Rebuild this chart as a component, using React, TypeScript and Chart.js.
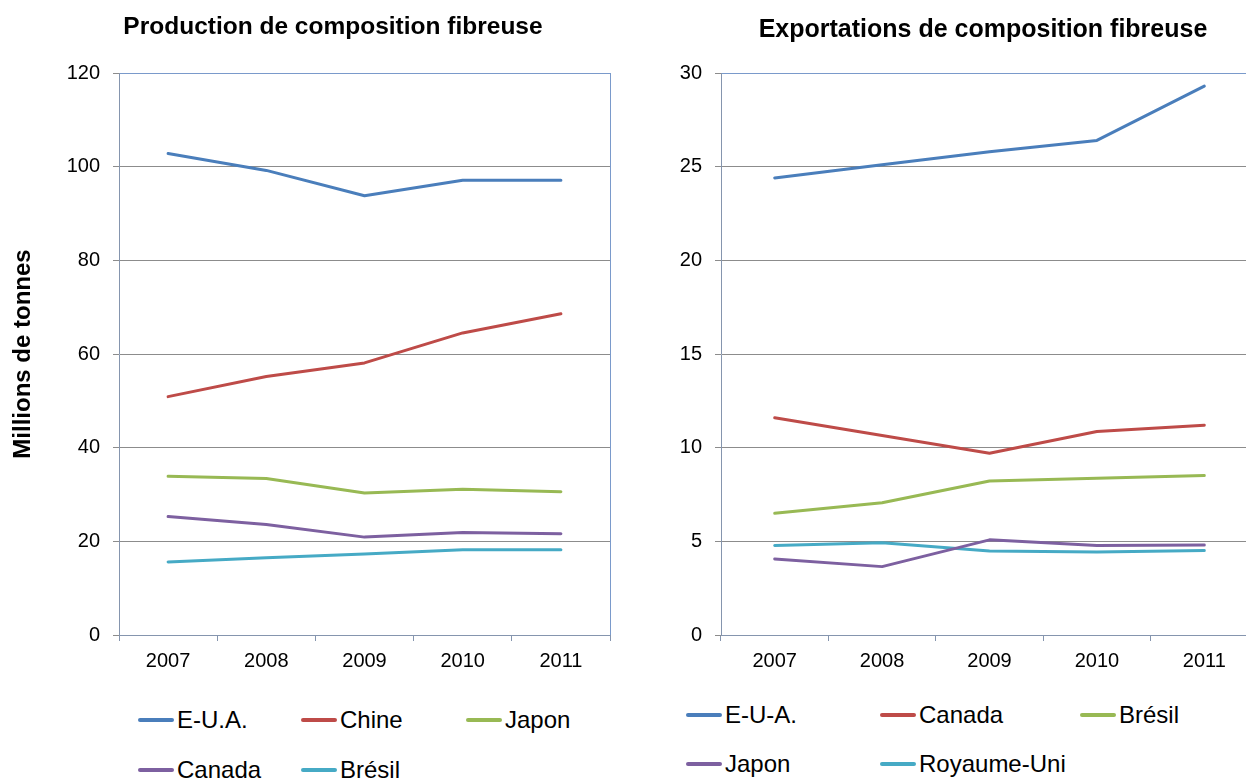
import React, { useEffect, useRef } from "react";
import { Chart, registerables } from "chart.js";

Chart.register(...registerables);

// ---------- DATA ----------
const years = ["2007", "2008", "2009", "2010", "2011"];

const prodTitle = "Production de composition fibreuse";
const prodAxisTitle = "Millions de tonnes";
const prodNames = ["E-U.A.", "Chine", "Japon", "Canada", "Brésil"];
const prodEUA = [102.8, 99.2, 93.8, 97.1, 97.1];
const prodChine = [50.9, 55.2, 58.1, 64.5, 68.6];
const prodJapon = [33.9, 33.4, 30.3, 31.1, 30.6];
const prodCanada = [25.3, 23.6, 20.9, 21.9, 21.6];
const prodBresil = [15.6, 16.5, 17.3, 18.2, 18.2];
const prodMax = 120;
const prodStep = 20;

const expTitle = "Exportations de composition fibreuse";
const expNames = ["E-U-A.", "Canada", "Brésil", "Japon", "Royaume-Uni"];
const expEUA = [24.4, 25.1, 25.8, 26.4, 29.3];
const expCanada = [11.6, 10.65, 9.7, 10.86, 11.2];
const expBresil = [6.5, 7.06, 8.22, 8.37, 8.51];
const expJapon = [4.06, 3.65, 5.08, 4.78, 4.8];
const expRoyaumeUni = [4.78, 4.92, 4.49, 4.43, 4.51];
const expMax = 30;
const expStep = 5;

const seriesColors = ["#4A7EBB", "#BE4B48", "#98B954", "#7D60A0", "#46AAC5"];

// ---------- STYLE ----------
const FONT = "'Liberation Sans', Arial, Helvetica, sans-serif";
const GRID = "#8C8C8C";
const AXIS = "#8595AE";
const FRAME = "#7A9ACB";

const frameRight = {
  id: "frameRight",
  afterDraw(chart: any) {
    const { ctx, chartArea } = chart;
    ctx.save();
    ctx.strokeStyle = FRAME;
    ctx.lineWidth = 1;
    ctx.beginPath();
    ctx.moveTo(Math.round(chartArea.right) + 0.5, chartArea.top);
    ctx.lineTo(Math.round(chartArea.right) + 0.5, chartArea.bottom);
    ctx.stroke();
    ctx.restore();
  },
};

type ChartCfg = {
  title: string;
  titleSize: number;
  titleTop: number;
  yTitle?: string;
  names: string[];
  series: number[][];
  max: number;
  step: number;
  yWidth: number;
  rightWidth: number;
};

function LineChart({ cfg, width, height }: { cfg: ChartCfg; width: number; height: number }) {
  const ref = useRef<HTMLCanvasElement | null>(null);
  useEffect(() => {
    if (!ref.current) return;
    const titleLH = cfg.titleSize * 1.2;
    const chart = new Chart(ref.current, {
      type: "line",
      data: {
        labels: years,
        datasets: cfg.series.map((d, i) => ({
          label: cfg.names[i],
          data: d,
          yAxisID: "y",
          borderColor: seriesColors[i],
          backgroundColor: seriesColors[i],
          borderWidth: 3,
          pointRadius: 0,
          pointHoverRadius: 0,
          tension: 0,
          fill: false,
          borderCapStyle: "round",
          borderJoinStyle: "round",
        })),
      },
      options: {
        responsive: false,
        animation: false,
        devicePixelRatio: 1,
        layout: { padding: 0 },
        plugins: {
          legend: { display: false },
          tooltip: { enabled: false },
          title: {
            display: true,
            text: cfg.title,
            color: "#000",
            font: { family: FONT, size: cfg.titleSize, weight: "bold", lineHeight: 1.2 },
            padding: { top: cfg.titleTop, bottom: 73 - cfg.titleTop - titleLH },
          },
        },
        scales: {
          x: {
            type: "category",
            offset: true,
            grid: {
              offset: true,
              drawOnChartArea: false,
              drawTicks: true,
              tickLength: 6,
              color: AXIS,
              tickColor: AXIS,
            },
            border: { color: AXIS, width: 1 },
            ticks: {
              color: "#000",
              font: { family: FONT, size: 20 },
              padding: 8,
              maxRotation: 0,
              autoSkip: false,
            },
            afterFit: (s: any) => {
              s.height = 45;
            },
          },
          y: {
            position: "left",
            min: 0,
            max: cfg.max,
            ticks: {
              stepSize: cfg.step,
              color: "#000",
              font: { family: FONT, size: 20 },
              padding: 13,
            },
            grid: {
              color: (c: any) => (c.tick && c.tick.value === cfg.max ? FRAME : GRID),
              tickColor: GRID,
              tickLength: 6,
              drawTicks: true,
            },
            border: { color: AXIS, width: 1 },
            title: cfg.yTitle
              ? {
                  display: true,
                  text: cfg.yTitle,
                  color: "#000",
                  font: { family: FONT, size: 24, weight: "bold", lineHeight: 1.2 },
                  padding: { top: 9, bottom: 0 },
                }
              : { display: false },
            afterFit: (s: any) => {
              s.width = cfg.yWidth;
            },
          },
          spacer: {
            position: "right",
            min: 0,
            max: cfg.max,
            ticks: { display: false },
            grid: { display: false, drawTicks: false },
            border: { display: false },
            title: { display: false },
            afterFit: (s: any) => {
              s.width = cfg.rightWidth;
            },
          },
        },
      } as any,
      plugins: [frameRight],
    });
    return () => chart.destroy();
  }, [cfg, width, height]);
  return <canvas ref={ref} width={width} height={height} style={{ width, height, display: "block" }} />;
}

function Legend({
  names,
  cols,
  rows,
  perRow,
}: {
  names: string[];
  cols: number[];
  rows: number[];
  perRow: number;
}) {
  return (
    <>
      {names.map((n, i) => {
        const x = cols[i % perRow];
        const y = rows[Math.floor(i / perRow)];
        return (
          <div
            key={n}
            style={{
              position: "absolute",
              left: x,
              top: y - 15,
              height: 30,
              display: "flex",
              alignItems: "center",
              whiteSpace: "nowrap",
              fontFamily: FONT,
              fontSize: 24,
              color: "#000",
              lineHeight: "30px",
            }}
          >
            <span
              style={{
                display: "inline-block",
                width: 36,
                height: 4,
                borderRadius: 2,
                background: seriesColors[i],
                marginRight: 3,
              }}
            />
            <span>{n}</span>
          </div>
        );
      })}
    </>
  );
}

const prodCfg: ChartCfg = {
  title: prodTitle,
  titleSize: 24.5,
  titleTop: 13,
  yTitle: prodAxisTitle,
  names: prodNames,
  series: [prodEUA, prodChine, prodJapon, prodCanada, prodBresil],
  max: prodMax,
  step: prodStep,
  yWidth: 119,
  rightWidth: 56,
};

const expCfg: ChartCfg = {
  title: expTitle,
  titleSize: 25,
  titleTop: 15,
  names: expNames,
  series: [expEUA, expCanada, expBresil, expJapon, expRoyaumeUni],
  max: expMax,
  step: expStep,
  yWidth: 81,
  rightWidth: 68,
};

export default function App() {
  return (
    <div
      style={{
        position: "fixed",
        left: 0,
        top: 0,
        width: 1246,
        height: 779,
        overflow: "hidden",
        background: "#fff",
      }}
    >
      <div style={{ position: "absolute", left: 0, top: 0 }}>
        <LineChart cfg={prodCfg} width={666} height={680} />
      </div>
      <div style={{ position: "absolute", left: 640, top: 0 }}>
        <LineChart cfg={expCfg} width={686} height={680} />
      </div>
      <Legend names={prodNames} cols={[138, 301, 466]} rows={[720, 770]} perRow={3} />
      <Legend names={expNames} cols={[686, 880, 1080]} rows={[715, 764]} perRow={3} />
    </div>
  );
}
